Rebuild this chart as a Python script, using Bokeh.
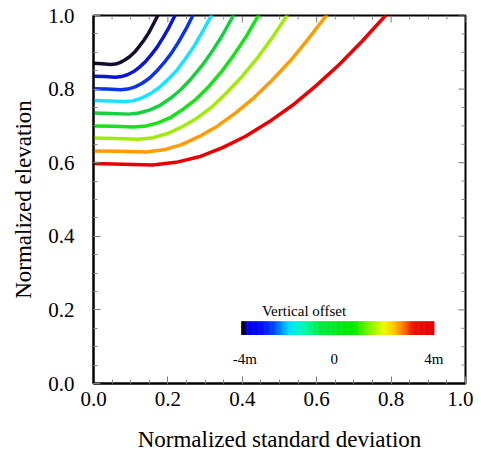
import math
from bokeh.plotting import figure
from bokeh.models import Range1d, SingleIntervalTicker, PrintfTickFormatter
from bokeh.core.properties import value
from bokeh.embed import file_html
from bokeh.resources import INLINE

# ---- data ----
std_c1 = [0.0, 0.023, 0.046, 0.059, 0.071, 0.084, 0.097, 0.110, 0.122, 0.135, 0.148, 0.160, 0.173]
elev_c1 = [0.870, 0.869, 0.867, 0.868, 0.872, 0.879, 0.888, 0.900, 0.915, 0.932, 0.952, 0.975, 1.0]

std_c2 = [0.0, 0.030, 0.059, 0.075, 0.091, 0.107, 0.123, 0.139, 0.155, 0.171, 0.187, 0.203, 0.219]
elev_c2 = [0.835, 0.834, 0.832, 0.834, 0.839, 0.847, 0.859, 0.874, 0.893, 0.914, 0.940, 0.968, 1.0]

std_c3 = [0.0, 0.037, 0.073, 0.092, 0.112, 0.131, 0.151, 0.170, 0.189, 0.209, 0.228, 0.248, 0.267]
elev_c3 = [0.801, 0.800, 0.798, 0.800, 0.806, 0.816, 0.830, 0.849, 0.871, 0.897, 0.927, 0.962, 1.0]

std_c4 = [0.0, 0.041, 0.081, 0.105, 0.128, 0.152, 0.175, 0.199, 0.223, 0.246, 0.270, 0.293, 0.317]
elev_c4 = [0.769, 0.768, 0.766, 0.768, 0.775, 0.787, 0.803, 0.825, 0.850, 0.881, 0.916, 0.956, 1.0]

std_c5 = [0.0, 0.047, 0.094, 0.122, 0.150, 0.179, 0.207, 0.235, 0.263, 0.291, 0.320, 0.348, 0.376]
elev_c5 = [0.735, 0.734, 0.732, 0.735, 0.743, 0.756, 0.775, 0.799, 0.829, 0.863, 0.904, 0.949, 1.0]

std_c6 = [0.0, 0.054, 0.108, 0.142, 0.175, 0.209, 0.242, 0.276, 0.309, 0.343, 0.376, 0.410, 0.443]
elev_c6 = [0.700, 0.699, 0.697, 0.700, 0.709, 0.724, 0.746, 0.773, 0.806, 0.846, 0.891, 0.942, 1.0]

std_c7 = [0.0, 0.060, 0.121, 0.161, 0.201, 0.241, 0.281, 0.321, 0.360, 0.400, 0.440, 0.480, 0.520]
elev_c7 = [0.667, 0.666, 0.664, 0.668, 0.680, 0.699, 0.723, 0.754, 0.792, 0.835, 0.884, 0.939, 1.0]

std_c8 = [0.0, 0.070, 0.140, 0.189, 0.237, 0.286, 0.334, 0.383, 0.432, 0.480, 0.529, 0.577, 0.626]
elev_c8 = [0.632, 0.631, 0.629, 0.635, 0.649, 0.672, 0.700, 0.736, 0.777, 0.824, 0.877, 0.936, 1.0]

std_c9 = [0.0, 0.080, 0.159, 0.222, 0.284, 0.347, 0.409, 0.472, 0.535, 0.597, 0.660, 0.722, 0.785]
elev_c9 = [0.598, 0.596, 0.594, 0.601, 0.616, 0.641, 0.672, 0.711, 0.756, 0.808, 0.866, 0.930, 1.0]

curve_colors = ["#150b32", "#0a16d4", "#0a34e4", "#16e4ff", "#14d23e",
                "#16e316", "#a2ea0a", "#ff9c00", "#ea0000"]

major_ticks = [0.0, 0.2, 0.4, 0.6, 0.8, 1.0]

cbar_title = "Vertical offset"
cbar_tick_values = [-4, 0, 4]
cbar_tick_labels = ["-4m", "0", "4m"]
cbar_stop_pos = [0.0, 0.015, 0.028, 0.10, 0.17, 0.25, 0.33, 0.41, 0.58, 0.65, 0.74, 0.79, 0.84, 0.89, 1.0]
cbar_stop_rgb = [(0, 0, 0), (0, 0, 0), (0, 0, 225), (0, 10, 240), (0, 70, 255), (0, 225, 255),
                 (0, 250, 170), (0, 235, 60), (0, 230, 0), (110, 240, 0), (240, 250, 0),
                 (255, 200, 0), (255, 120, 0), (232, 20, 0), (228, 0, 0)]

# ---- figure ----
SERIF = "Liberation Serif"
p = figure(width=473, height=455,
           x_range=Range1d(0, 1), y_range=Range1d(0, 1),
           output_backend="svg", toolbar_location=None,
           min_border_left=93, min_border_right=8, min_border_top=15, min_border_bottom=72,
           background_fill_color="white", border_fill_color="white")
p.grid.visible = False
p.outline_line_color = "black"
p.outline_line_width = 2

bottom_ax = p.below[0]
left_ax = p.left[0]
bottom_ax.axis_label = "Normalized standard deviation"
left_ax.axis_label = "Normalized elevation"

for ax in [bottom_ax, left_ax]:
    ax.ticker = SingleIntervalTicker(interval=0.2, num_minor_ticks=4)
    ax.formatter = PrintfTickFormatter(format="%.1f")
    ax.major_tick_in = 7
    ax.major_tick_out = 0
    ax.minor_tick_in = 4
    ax.minor_tick_out = 0
    ax.major_tick_line_color = "#777777"
    ax.minor_tick_line_color = "#888888"
    ax.axis_line_color = "black"
    ax.axis_line_width = 2
    ax.major_label_text_font = SERIF
    ax.major_label_text_font_size = "21px"
    ax.major_label_text_color = "black"
    ax.axis_label_text_font = SERIF
    ax.axis_label_text_font_size = "23px"
    ax.axis_label_text_font_style = "normal"
    ax.axis_label_text_color = "black"

bottom_ax.major_label_standoff = 8
bottom_ax.axis_label_standoff = 18
left_ax.major_label_standoff = 19
left_ax.axis_label_standoff = 9

# tick marks on the top and right edges
minor_ticks = [i * 0.05 for i in range(21) if i % 4 != 0]
for ticks, length, col in [(major_ticks, 7, "#777777"), (minor_ticks, 4, "#888888")]:
    n_t = len(ticks)
    p.ray(x=[1.0] * n_t, y=ticks, length=length, length_units="screen", angle=math.pi,
          line_color=col, line_width=1)
    p.ray(x=ticks, y=[1.0] * n_t, length=length, length_units="screen", angle=-math.pi / 2,
          line_color=col, line_width=1)

curves = [(std_c1, elev_c1), (std_c2, elev_c2), (std_c3, elev_c3), (std_c4, elev_c4),
          (std_c5, elev_c5), (std_c6, elev_c6), (std_c7, elev_c7), (std_c8, elev_c8),
          (std_c9, elev_c9)]
for (xs, ys), col in zip(curves, curve_colors):
    p.line(xs, ys, line_color=col, line_width=3.5, line_join="round", line_cap="round")

# ---- colour bar drawn in data space ----
cb_x0, cb_x1 = 0.397, 0.915
cb_y0, cb_y1 = 0.132, 0.169


def interp_rgb(f):
    for i in range(len(cbar_stop_pos) - 1):
        a, b = cbar_stop_pos[i], cbar_stop_pos[i + 1]
        if a <= f <= b:
            t = 0 if b == a else (f - a) / (b - a)
            c0, c1 = cbar_stop_rgb[i], cbar_stop_rgb[i + 1]
            return "#%02x%02x%02x" % tuple(int(round(c0[k] + t * (c1[k] - c0[k]))) for k in range(3))
    return "#%02x%02x%02x" % cbar_stop_rgb[-1]


n = 160
lefts, rights, cols = [], [], []
for i in range(n):
    f0 = i / n
    f1 = (i + 1) / n
    lefts.append(cb_x0 + f0 * (cb_x1 - cb_x0))
    rights.append(cb_x0 + f1 * (cb_x1 - cb_x0) + 0.0015)
    cols.append(interp_rgb((f0 + f1) / 2))
p.quad(left=lefts, right=rights, bottom=cb_y0, top=cb_y1, fill_color=cols, line_color=None)

vmin, vmax = cbar_tick_values[0], cbar_tick_values[-1]
tick_x = [cb_x0 + 0.01 + (v - vmin) / (vmax - vmin) * (cb_x1 - cb_x0 - 0.01) for v in cbar_tick_values]
tick_x[1] -= 0.014
p.text(x=tick_x, y=[0.067] * 3, text=cbar_tick_labels, text_font=value(SERIF),
       text_font_size="15px", text_align="center", text_baseline="alphabetic", text_color="black")
p.text(x=[0.566], y=[0.196], text=[cbar_title], text_font=value(SERIF),
       text_font_size="15px", text_align="center", text_baseline="alphabetic", text_color="black")

open("out.html", "w").write(file_html(p, INLINE))
